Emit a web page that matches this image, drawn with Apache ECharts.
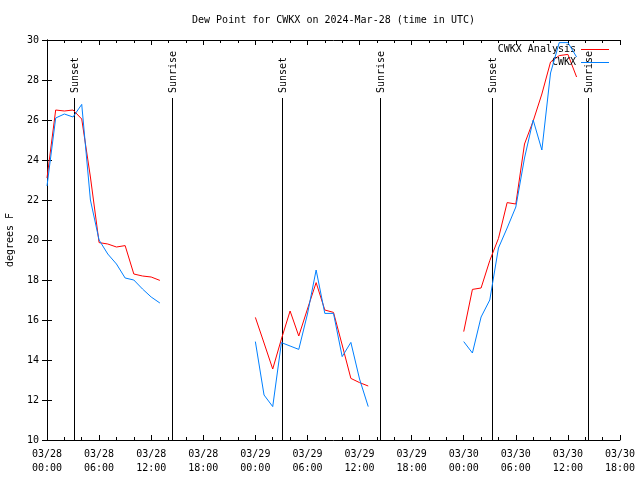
<!DOCTYPE html>
<html>
<head>
<meta charset="utf-8">
<script src="https://cdn.jsdelivr.net/npm/echarts@6/dist/echarts.min.js"></script>
<style>html,body{margin:0;padding:0;background:#fff;}#c{width:640px;height:480px;}</style>
</head>
<body>
<div id="c"></div>
<script>
// ---- data (hours since 03/28 00:00 UTC) ----
const hours = [0,1,2,3,4,5,6,7,8,9,10,11,12,13,
               24,25,26,27,28,29,30,31,32,33,34,35,36,37,
               48,49,50,51,52,53,54,55,56,57,58,59,60,61];
const analysis = [23.1,26.5,26.45,26.5,26.05,23.15,19.87,19.8,19.65,19.72,18.3,18.2,18.15,17.98,
                  16.13,14.85,13.55,15.05,16.45,15.2,16.55,17.87,16.5,16.38,14.75,13.08,12.87,12.7,
                  15.42,17.53,17.6,18.97,20.08,21.87,21.8,24.8,25.95,27.3,28.9,29.22,29.28,28.15];
const observed = [22.7,26.1,26.3,26.15,26.78,22.0,20.0,19.3,18.8,18.1,18.0,17.55,17.15,16.85,
                  14.92,12.25,11.67,14.87,14.7,14.53,16.3,18.5,16.33,16.33,14.17,14.88,13.05,11.67,
                  14.92,14.35,16.15,17.0,19.6,20.6,21.65,24.1,26.0,24.5,28.35,29.87,29.87,29.15];
const sunLabels = ['Sunset','Sunrise','Sunset','Sunrise','Sunset','Sunrise'];
const sunHours = [3.07,14.42,27.1,38.38,51.2,62.35];
const xTickLabels = ['03/28\n00:00','03/28\n06:00','03/28\n12:00','03/28\n18:00',
                     '03/29\n00:00','03/29\n06:00','03/29\n12:00','03/29\n18:00',
                     '03/30\n00:00','03/30\n06:00','03/30\n12:00','03/30\n18:00'];
const seriesNames = ['CWKX Analysis','CWKX'];
const seriesColors = ['#ff0000','#0080ff'];
const titleText = 'Dew Point for CWKX on 2024-Mar-28 (time in UTC)';
const yName = 'degrees F';

// ---- build ----
function withGaps(xs, ys){
  const out = [];
  for (let i = 0; i < xs.length; i++){
    if (i > 0 && xs[i] - xs[i-1] > 1) out.push([xs[i-1] + 0.5, '-']);
    out.push([xs[i], ys[i]]);
  }
  return out;
}
const FONT = '"DejaVu Sans Mono", "Liberation Mono", monospace';
const chart = echarts.init(document.getElementById('c'), null, {renderer:'canvas'});
const tickCommon = {show:true, inside:true, length:5, lineStyle:{color:'#000', width:1}};
chart.setOption({
  animation:false,
  backgroundColor:'#fff',
  graphic:[{type:'text', x:333.5, y:20, style:{text:titleText, font:'10px ' + FONT, fill:'#000', align:'center', verticalAlign:'middle'}}],
  grid:{left:47, right:20, top:40, bottom:40, containLabel:false, outerBoundsMode:'none'},
  legend:{
    data:seriesNames.map(function(n){ return {name:n, icon:'rect'}; }),
    orient:'vertical', right:31, top:43, padding:0,
    itemWidth:28, itemHeight:1, itemGap:0, align:'right',
    textStyle:{fontFamily:FONT, fontSize:10, color:'#000', lineHeight:13}
  },
  xAxis:[{
    type:'value', min:0, max:66, interval:6, position:'bottom',
    axisLine:{show:true, lineStyle:{color:'#000', width:1}},
    axisTick:tickCommon,
    minorTick:{show:true, splitNumber:3, length:3, lineStyle:{color:'#000', width:1}},
    splitLine:{show:false},
    axisLabel:{color:'#000', fontFamily:FONT, fontSize:10, lineHeight:14, margin:7,
      formatter:function(v){ return xTickLabels[Math.round(v/6)] || ''; }}
  },{
    type:'value', min:0, max:66, interval:6, position:'top',
    axisLine:{show:true, lineStyle:{color:'#000', width:1}},
    axisTick:tickCommon,
    minorTick:{show:true, splitNumber:3, length:3, lineStyle:{color:'#000', width:1}},
    splitLine:{show:false}, axisLabel:{show:false}
  }],
  yAxis:[{
    type:'value', min:10, max:30, interval:2, position:'left',
    name:yName, nameLocation:'middle', nameGap:32, nameRotate:90,
    nameTextStyle:{color:'#000', fontFamily:FONT, fontSize:10},
    axisLine:{show:true, lineStyle:{color:'#000', width:1}},
    axisTick:tickCommon, splitLine:{show:false},
    axisLabel:{color:'#000', fontFamily:FONT, fontSize:10, margin:8}
  },{
    type:'value', min:10, max:30, interval:2, position:'right',
    axisLine:{show:true, lineStyle:{color:'#000', width:1}},
    axisTick:tickCommon, splitLine:{show:false}, axisLabel:{show:false}
  }],
  series:[{
    name:seriesNames[0], type:'line', symbol:'none', xAxisIndex:0, yAxisIndex:0,
    lineStyle:{color:seriesColors[0], width:1}, itemStyle:{color:seriesColors[0]},
    data:withGaps(hours, analysis), z:3
  },{
    name:seriesNames[1], type:'line', symbol:'none', xAxisIndex:0, yAxisIndex:0,
    lineStyle:{color:seriesColors[1], width:1}, itemStyle:{color:seriesColors[1]},
    data:withGaps(hours, observed), z:4
  },{
    name:'sun', type:'custom', xAxisIndex:0, yAxisIndex:0, z:2,
    data:sunHours.map(function(h){ return [h, 10]; }),
    renderItem:function(params, api){
      const p = api.coord([api.value(0), api.value(1)]);
      const cs = params.coordSys;
      const x = Math.round(p[0]) + 0.5;
      const topY = cs.y + cs.height * 0.145;
      return {type:'group', children:[
        {type:'line', shape:{x1:x, y1:p[1], x2:x, y2:topY}, style:{stroke:'#000', lineWidth:1}},
        {type:'text', x:x + 1, y:topY - 5, rotation:Math.PI/2,
         style:{text:sunLabels[params.dataIndex], font:'10px ' + FONT, fill:'#000', align:'left', verticalAlign:'middle'}}
      ]};
    }
  }]
});
</script>
</body>
</html>
